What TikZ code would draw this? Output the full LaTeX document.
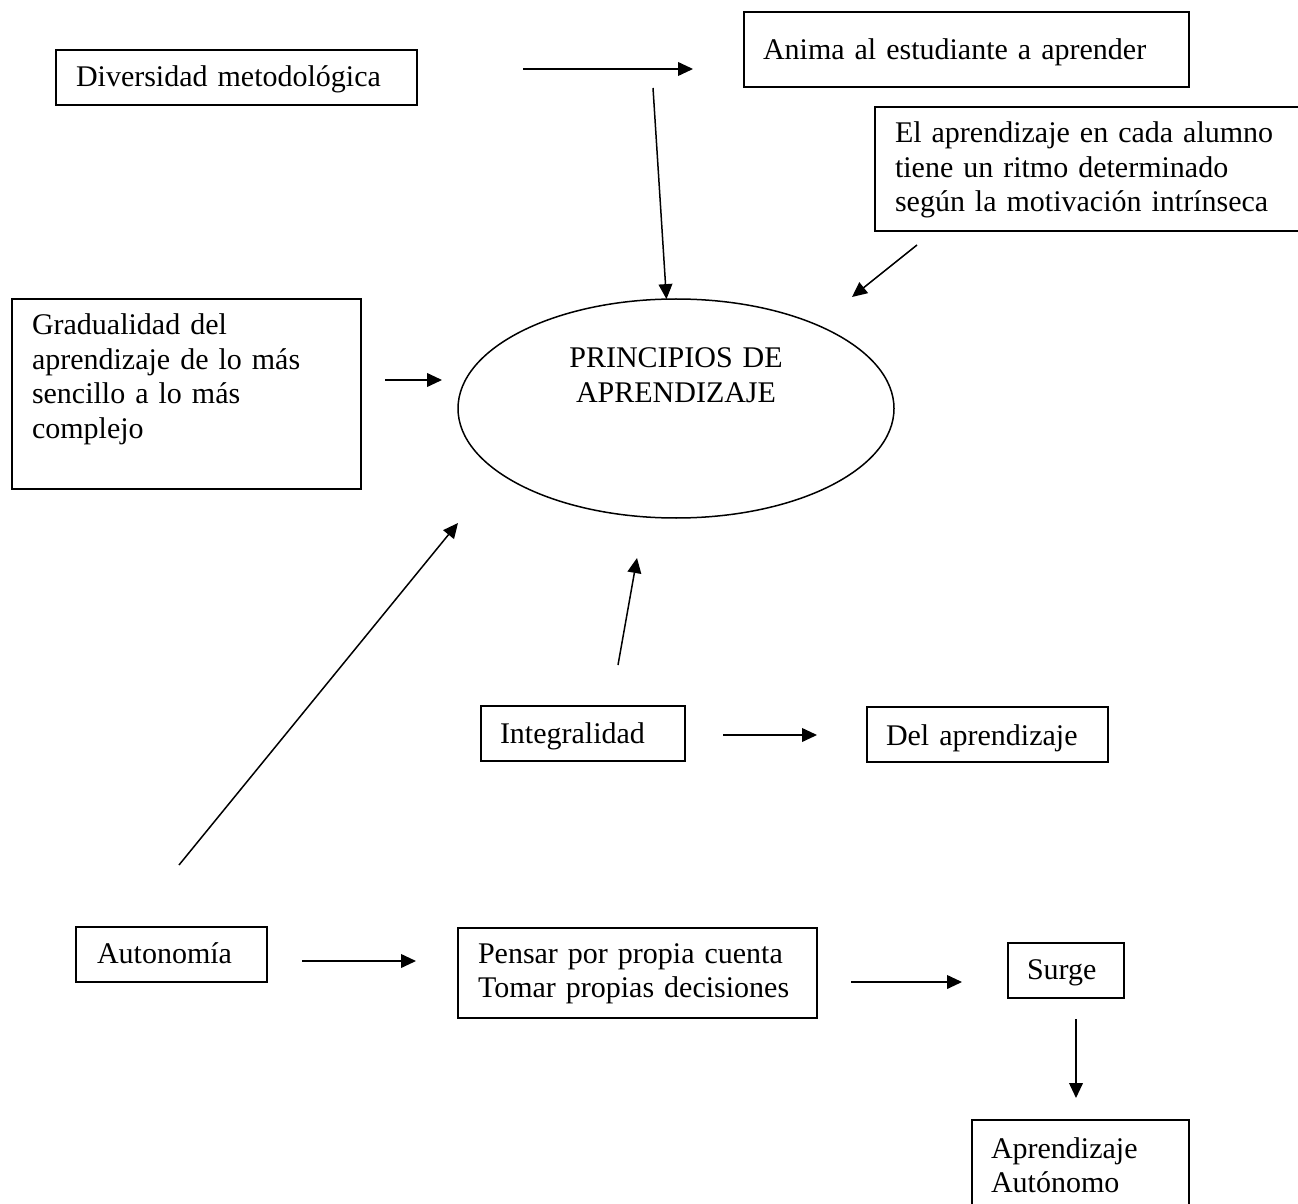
\documentclass[tikz,border=0pt]{standalone}
\usepackage{fontspec}
\setmainfont{Liberation Serif}
\usetikzlibrary{arrows.meta,shapes.geometric}

% one drawing unit = 0.4pt
\def\pxu{0.4pt}

\tikzset{
  txt/.style={font=\fontsize{12pt}{13.8pt}\selectfont},
  tbox/.style={txt, draw, rectangle, line width=0.6pt, inner ysep=0pt,
    outer sep=0pt, anchor=north west, align=left},
  arr/.style={line width=0.6pt, -{Triangle[length=6pt,width=5.5pt]}},
}

% \tbox{name}{left}{top}{right}{bottom}{text left}{first baseline}{text}
\newcommand\tbox[8]{%
  \pgfmathsetlengthmacro\bxpad{(#6-#2)*\pxu}%
  \pgfmathsetlengthmacro\bxtw{(#4-#6)*\pxu-\bxpad}%
  \pgfmathsetlengthmacro\bxth{(#7-#3)*\pxu}%
  \pgfmathsetlengthmacro\bxtd{(#5-#7)*\pxu}%
  \node[tbox, inner xsep=\bxpad, text width=\bxtw,
        text height=\bxth, text depth=\bxtd] (#1) at (#2,#3) {#8};%
}

\begin{document}
\begin{tikzpicture}[x=0.4pt, y=-0.4pt]
  \clip (0,0) rectangle (1298,1204);
  \fill[white] (0,0) rectangle (1298,1204);

  % boxes
  \tbox{div}{56}{50}{417}{105}{76}{87}{Diversidad metodológica}
  \tbox{anima}{744}{12}{1189}{87}{763}{60}{Anima al estudiante a aprender}
  \tbox{ritmo}{875}{107}{1330}{231}{895}{143}{El aprendizaje en cada alumno\\tiene un ritmo determinado\\según la motivación intrínseca}
  \tbox{grad}{12}{299}{361}{489}{32}{335}{Gradualidad del\\aprendizaje de lo más\\sencillo a lo más\\complejo}
  \tbox{integ}{481}{706}{685}{761}{500}{743}{Integralidad}
  \tbox{delap}{867}{707}{1108}{762}{886}{745}{Del aprendizaje}
  \tbox{auton}{76}{927}{267}{982}{97}{963}{Autonomía}
  \tbox{pensar}{458}{928}{817}{1018}{478}{963}{Pensar por propia cuenta\\Tomar propias decisiones}
  \tbox{surge}{1008}{943}{1124}{998}{1027}{979}{Surge}
  \tbox{aprau}{972}{1120}{1189}{1240}{991}{1158}{Aprendizaje\\Autónomo}

  % central ellipse
  \node[txt, draw, ellipse, line width=0.6pt, inner sep=0pt, outer sep=0pt,
        minimum width=436*0.4pt, minimum height=219*0.4pt,
        text width=120pt, align=center, text height=8pt, text depth=40.4pt]
    (ppio) at (676,408.5) {PRINCIPIOS DE\\APRENDIZAJE};

  % connector end points
  \coordinate (a1s) at (523,69);   \coordinate (a1e) at (693,69);
  \coordinate (a2s) at (653,88);
  \coordinate (a3s) at (917,245);  \coordinate (a3e) at (852,297);
  \coordinate (a4s) at (385,380);  \coordinate (a4e) at (442,380);
  \coordinate (a5s) at (618,665);  \coordinate (a5e) at (637,558);
  \coordinate (a6s) at (179,865);  \coordinate (a6e) at (458,523);
  \coordinate (a7s) at (723,735);  \coordinate (a7e) at (817,735);
  \coordinate (a8s) at (302,961);  \coordinate (a8e) at (416,961);
  \coordinate (a9s) at (851,982);  \coordinate (a9e) at (962,982);
  \coordinate (a10s) at (1076,1019); \coordinate (a10e) at (1076,1098);

  % connectors
  \draw[arr] (a1s) -- (a1e);
  \draw[arr] (a2s) -- (ppio.95);
  \draw[arr] (a3s) -- (a3e);
  \draw[arr] (a4s) -- (a4e);
  \draw[arr] (a5s) -- (a5e);
  \draw[arr] (a6s) -- (a6e);
  \draw[arr] (a7s) -- (a7e);
  \draw[arr] (a8s) -- (a8e);
  \draw[arr] (a9s) -- (a9e);
  \draw[arr] (a10s) -- (a10e);
\end{tikzpicture}
\end{document}
